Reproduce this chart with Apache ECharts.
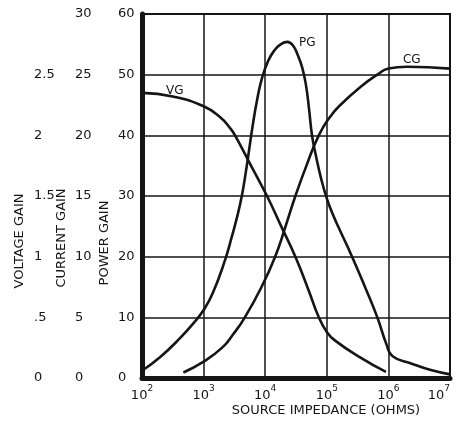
<!DOCTYPE html>
<html>
<head>
<meta charset="utf-8">
<script src="https://cdn.jsdelivr.net/npm/echarts@6/dist/echarts.min.js"></script>
<style>
  html, body { margin: 0; padding: 0; background: #ffffff; }
  #chart { width: 462px; height: 422px; }
</style>
</head>
<body>
<div id="chart"></div>
<script>
// Power gain (PG) against source impedance in ohms
const pgOhms = [100, 200, 417, 708, 1000, 1410, 2240, 2820, 3550, 4170, 4790, 5500, 6310,
  7410, 8910, 11200, 14100, 17800, 22900, 28200, 33900, 39800, 45700, 51300, 57500, 66100,
  79400, 100000, 126000, 166000, 257000, 417000, 661000, 933000, 1170000, 2340000, 4900000,
  10000000];
const powerGain = [1.2, 3.5, 6.6, 9.2, 11.2, 14.0, 19.5, 23.0, 26.8, 30.0, 33.6, 37.7, 41.8,
  45.9, 49.5, 52.3, 54.0, 55.0, 55.4, 54.8, 53.2, 51.2, 48.4, 44.5, 40.0, 36.8,
  33.2, 29.6, 26.9, 24.2, 20.0, 15.0, 10.0, 5.5, 3.6, 2.4, 1.3,
  0.6];

// Voltage gain (VG)
const vgOhms = [100, 316, 1000, 1860, 2690, 3240, 6030, 10700, 18200, 30900, 50100, 74100,
  100000, 135000, 347000, 912000];
const voltageGain = [2.35, 2.32, 2.24, 2.15, 2.06, 2.0, 1.74, 1.5, 1.25, 1.0, 0.73, 0.5,
  0.38, 0.31, 0.17, 0.05];

// Current gain (CG)
const cgOhms = [470, 1000, 2000, 3020, 4680, 8510, 14500, 21400, 30900, 47900, 74100, 112000,
  166000, 355000, 661000, 1000000, 2000000, 10000000];
const currentGain = [0.45, 1.35, 2.5, 3.6, 5.0, 7.4, 10.0, 12.5, 15.0, 17.65, 20.0, 21.5,
  22.5, 24.0, 25.0, 25.5, 25.65, 25.5];

// Tick labels for the three gain scales
const powerTicks = ['0', '10', '20', '30', '40', '50', '60'];
const currentTicks = ['0', '5', '10', '15', '20', '25', '30'];
const voltageTicks = ['0', '.5', '1', '1.5', '2', '2.5', ''];

const ink = '#151515';
const face = '"DejaVu Sans", Verdana, sans-serif';

const pairs = (xs, ys) => xs.map((x, i) => [x, ys[i]]);

function curveLabel(text, coord) {
  return {
    silent: true,
    symbol: 'circle',
    symbolSize: 0,
    label: { show: true, position: 'inside', formatter: text, color: ink, fontFamily: face, fontSize: 12 },
    data: [{ coord: coord }]
  };
}

const lineStyle = { color: ink, width: 2.6 };

const chart = echarts.init(document.getElementById('chart'), null, { renderer: 'canvas' });

chart.setOption({
  animation: false,
  backgroundColor: '#ffffff',
  grid: {
    left: 142, right: 12, top: 14, bottom: 44,
    containLabel: false,
    outerBoundsMode: 'none',
    show: true, borderColor: ink, borderWidth: 2, backgroundColor: 'transparent'
  },
  xAxis: {
    type: 'log',
    logBase: 10,
    min: 100,
    max: 10000000,
    axisLine: { show: true, lineStyle: { color: ink, width: 5 } },
    axisTick: { show: false },
    splitLine: { show: true, lineStyle: { color: ink, width: 1.5 } },
    axisLabel: {
      margin: 6,
      color: ink,
      alignMaxLabel: 'right',
      formatter: v => '{b|10}{s|' + Math.round(Math.log10(v)) + '}',
      rich: {
        b: { fontFamily: face, fontSize: 13, color: ink, lineHeight: 18, verticalAlign: 'bottom' },
        s: { fontFamily: face, fontSize: 9, color: ink, lineHeight: 12, verticalAlign: 'top' }
      }
    }
  },
  yAxis: [
    {
      type: 'value', position: 'left', offset: 0, min: 0, max: 60, interval: 10,
      axisLine: { show: true, onZero: false, lineStyle: { color: ink, width: 5 } },
      axisTick: { show: false },
      splitLine: { show: true, lineStyle: { color: ink, width: 1.5 } },
      axisLabel: {
        align: 'left', margin: 24, color: ink, fontFamily: face, fontSize: 13,
        formatter: v => powerTicks[Math.round(v / 10)]
      }
    },
    {
      type: 'value', position: 'left', offset: 0, min: 0, max: 30, interval: 5,
      axisLine: { show: false }, axisTick: { show: false }, splitLine: { show: false },
      axisLabel: {
        align: 'left', margin: 67, color: ink, fontFamily: face, fontSize: 13,
        formatter: v => currentTicks[Math.round(v / 5)]
      }
    },
    {
      type: 'value', position: 'left', offset: 0, min: 0, max: 3, interval: 0.5,
      axisLine: { show: false }, axisTick: { show: false }, splitLine: { show: false },
      axisLabel: {
        align: 'left', margin: 108, color: ink, fontFamily: face, fontSize: 13,
        formatter: v => voltageTicks[Math.round(v / 0.5)]
      }
    }
  ],
  series: [
    {
      name: 'PG', type: 'line', yAxisIndex: 0, data: pairs(pgOhms, powerGain),
      showSymbol: false, smooth: 0.5, lineStyle: lineStyle, silent: true,
      markPoint: curveLabel('PG', [48000, 55.2])
    },
    {
      name: 'CG', type: 'line', yAxisIndex: 1, data: pairs(cgOhms, currentGain),
      showSymbol: false, smooth: 0.5, lineStyle: lineStyle, silent: true,
      markPoint: curveLabel('CG', [2400000, 26.2])
    },
    {
      name: 'VG', type: 'line', yAxisIndex: 2, data: pairs(vgOhms, voltageGain),
      showSymbol: false, smooth: 0.5, lineStyle: lineStyle, silent: true,
      markPoint: curveLabel('VG', [340, 2.37])
    }
  ],
  graphic: [
    {
      type: 'text', x: 20, y: 241, rotation: Math.PI / 2,
      style: { text: 'VOLTAGE GAIN', font: '13px ' + face, fill: ink, textAlign: 'center', textVerticalAlign: 'middle' }
    },
    {
      type: 'text', x: 62, y: 238, rotation: Math.PI / 2,
      style: { text: 'CURRENT GAIN', font: '13px ' + face, fill: ink, textAlign: 'center', textVerticalAlign: 'middle' }
    },
    {
      type: 'text', x: 105, y: 243, rotation: Math.PI / 2,
      style: { text: 'POWER GAIN', font: '13px ' + face, fill: ink, textAlign: 'center', textVerticalAlign: 'middle' }
    },
    {
      type: 'text', x: 326, y: 411,
      style: { text: 'SOURCE IMPEDANCE (OHMS)', font: '13px ' + face, fill: ink, textAlign: 'center', textVerticalAlign: 'middle' }
    }
  ]
});
</script>
</body>
</html>
